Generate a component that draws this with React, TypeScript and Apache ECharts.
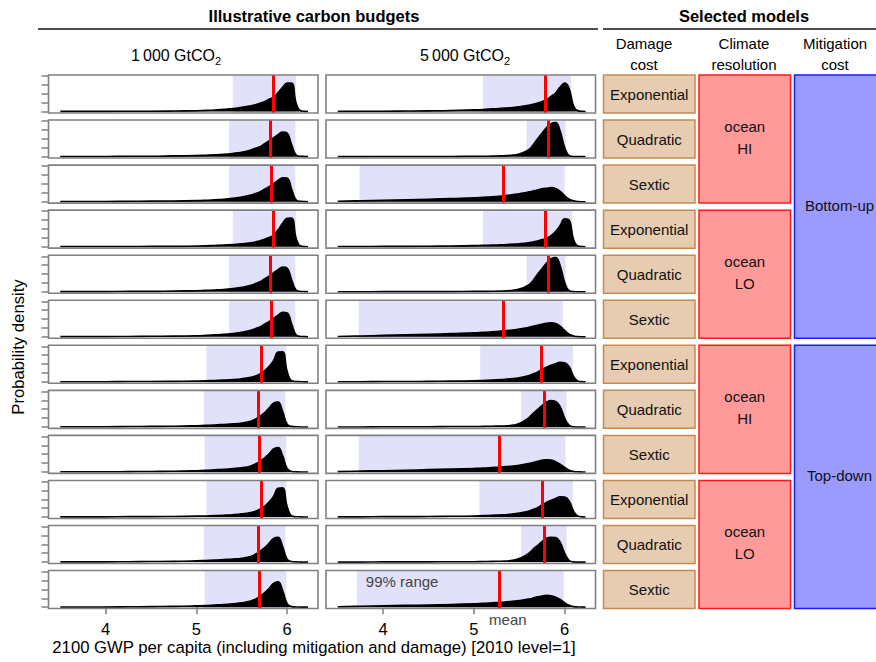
import React, { useEffect, useRef } from "react";
import * as echarts from "echarts";

// ---------- data ----------
const X_GRID = [3.5, 3.75, 4.0, 4.25, 4.5, 4.75, 5.0, 5.1, 5.2, 5.3, 5.4, 5.5, 5.6, 5.65, 5.7, 5.75, 5.8, 5.85, 5.9, 5.95, 6.0, 6.05, 6.1, 6.15, 6.2, 6.23];

// 1 000 GtCO2 densities (rows top to bottom)
const D1000_R1 = [0.01,0.01,0.01,0.02,0.02,0.03,0.05,0.07,0.09,0.13,0.17,0.24,0.32,0.39,0.47,0.56,0.69,0.8,1.07,1.37,1.6,1.6,0.45,0.04,0.01,0];
const D1000_R2 = [0.01,0.01,0.01,0.02,0.02,0.04,0.06,0.08,0.1,0.13,0.18,0.25,0.37,0.47,0.56,0.73,0.88,1.06,1.24,1.38,1.32,0.66,0.09,0.02,0.01,0];
const D1000_R3 = [0.01,0.01,0.01,0.02,0.03,0.04,0.06,0.08,0.11,0.14,0.19,0.26,0.37,0.46,0.55,0.7,0.84,1.02,1.2,1.35,1.33,0.7,0.1,0.02,0.01,0];
const D1000_R4 = [0.01,0.01,0.01,0.01,0.02,0.02,0.04,0.05,0.07,0.09,0.12,0.16,0.22,0.27,0.33,0.42,0.52,0.66,0.95,1.32,1.6,1.62,0.46,0.04,0.01,0];
const D1000_R5 = [0.01,0.01,0.01,0.02,0.02,0.04,0.06,0.08,0.1,0.13,0.18,0.25,0.36,0.46,0.56,0.72,0.88,1.06,1.25,1.39,1.33,0.67,0.09,0.02,0.01,0];
const D1000_R6 = [0.01,0.01,0.01,0.02,0.03,0.04,0.06,0.08,0.11,0.14,0.19,0.26,0.37,0.46,0.56,0.71,0.86,1.04,1.22,1.38,1.35,0.72,0.1,0.02,0.01,0];
const D1000_R7 = [0.01,0.01,0.01,0.02,0.02,0.03,0.05,0.06,0.08,0.1,0.13,0.18,0.26,0.33,0.45,0.62,0.86,1.2,1.68,1.7,0.6,0.06,0.02,0.01,0,0];
const D1000_R8 = [0.01,0.01,0.01,0.02,0.03,0.04,0.07,0.09,0.11,0.14,0.17,0.22,0.32,0.44,0.6,0.8,1.06,1.34,1.4,0.88,0.16,0.03,0.01,0,0,0];
const D1000_R9 = [0.01,0.01,0.01,0.02,0.03,0.04,0.07,0.09,0.12,0.15,0.19,0.24,0.34,0.45,0.6,0.78,1.02,1.3,1.38,0.92,0.2,0.03,0.01,0,0,0];
const D1000_R10 = [0.01,0.01,0.01,0.02,0.02,0.03,0.05,0.06,0.08,0.1,0.13,0.18,0.26,0.33,0.44,0.6,0.84,1.16,1.62,1.64,0.6,0.06,0.02,0.01,0,0];
const D1000_R11 = [0.01,0.01,0.01,0.02,0.03,0.04,0.07,0.09,0.11,0.14,0.17,0.22,0.32,0.44,0.6,0.8,1.06,1.33,1.39,0.88,0.16,0.03,0.01,0,0,0];
const D1000_R12 = [0.01,0.01,0.01,0.02,0.03,0.04,0.07,0.09,0.12,0.15,0.19,0.24,0.34,0.45,0.61,0.8,1.04,1.33,1.42,0.94,0.2,0.03,0.01,0,0,0];

// 5 000 GtCO2 densities
const D5000_R1 = [0.01,0.02,0.02,0.03,0.04,0.06,0.1,0.12,0.15,0.18,0.22,0.27,0.35,0.41,0.48,0.56,0.66,0.85,1.05,1.38,1.6,1.3,0.3,0.04,0.01,0];
const D5000_R2 = [0,0,0.01,0.01,0.01,0.01,0.02,0.02,0.03,0.04,0.07,0.15,0.38,0.64,1.0,1.32,1.64,1.86,1.92,1.46,0.52,0.06,0.01,0,0,0];
const D5000_R3 = [0.02,0.05,0.08,0.11,0.14,0.18,0.22,0.25,0.28,0.32,0.37,0.45,0.54,0.6,0.66,0.72,0.76,0.79,0.74,0.58,0.34,0.14,0.05,0.01,0,0];
const D5000_R4 = [0.01,0.01,0.02,0.02,0.03,0.04,0.06,0.08,0.09,0.11,0.14,0.17,0.22,0.27,0.32,0.4,0.47,0.62,0.85,1.2,1.57,1.5,0.38,0.04,0.01,0];
const D5000_R5 = [0,0,0.01,0.01,0.01,0.01,0.02,0.02,0.03,0.04,0.07,0.15,0.37,0.62,0.98,1.3,1.62,1.86,1.93,1.48,0.54,0.06,0.01,0,0,0];
const D5000_R6 = [0.02,0.05,0.08,0.11,0.14,0.18,0.22,0.25,0.28,0.32,0.37,0.44,0.53,0.59,0.65,0.71,0.76,0.79,0.75,0.6,0.36,0.15,0.05,0.01,0,0];
const D5000_R7 = [0.01,0.01,0.02,0.02,0.03,0.04,0.06,0.08,0.1,0.13,0.17,0.23,0.34,0.44,0.55,0.7,0.83,0.93,1.02,1.1,1.08,0.85,0.3,0.04,0.01,0];
const D5000_R8 = [0,0,0.01,0.01,0.01,0.02,0.02,0.03,0.04,0.05,0.08,0.2,0.5,0.75,0.97,1.2,1.4,1.48,1.44,1.15,0.5,0.09,0.01,0,0,0];
const D5000_R9 = [0.02,0.05,0.07,0.1,0.13,0.16,0.2,0.22,0.25,0.28,0.32,0.38,0.47,0.53,0.6,0.66,0.69,0.67,0.58,0.44,0.25,0.1,0.03,0.01,0,0];
const D5000_R10 = [0.01,0.01,0.02,0.02,0.03,0.04,0.06,0.08,0.1,0.12,0.16,0.22,0.32,0.42,0.53,0.68,0.82,0.94,1.05,1.14,1.13,0.9,0.32,0.04,0.01,0];
const D5000_R11 = [0,0,0.01,0.01,0.01,0.02,0.02,0.03,0.04,0.05,0.08,0.2,0.48,0.72,0.93,1.15,1.34,1.4,1.38,1.12,0.5,0.09,0.01,0,0,0];
const D5000_R12 = [0.02,0.05,0.07,0.1,0.12,0.15,0.19,0.21,0.24,0.27,0.31,0.37,0.45,0.51,0.58,0.63,0.66,0.64,0.56,0.43,0.25,0.1,0.03,0.01,0,0];

const DENS_1000 = [D1000_R1, D1000_R2, D1000_R3, D1000_R4, D1000_R5, D1000_R6, D1000_R7, D1000_R8, D1000_R9, D1000_R10, D1000_R11, D1000_R12];
const DENS_5000 = [D5000_R1, D5000_R2, D5000_R3, D5000_R4, D5000_R5, D5000_R6, D5000_R7, D5000_R8, D5000_R9, D5000_R10, D5000_R11, D5000_R12];

// 99% ranges [low, high] and means
const RANGE_1000 = [[5.4, 6.1], [5.36, 6.09], [5.36, 6.09], [5.4, 6.1], [5.36, 6.09], [5.36, 6.09], [5.11, 5.99], [5.08, 5.98], [5.09, 5.99], [5.11, 5.99], [5.08, 5.98], [5.09, 5.99]];
const MEAN_1000 = [5.85, 5.81, 5.82, 5.85, 5.81, 5.82, 5.72, 5.68, 5.69, 5.72, 5.68, 5.69];
const RANGE_5000 = [[5.1, 6.07], [5.58, 6.01], [3.74, 6.0], [5.1, 6.08], [5.58, 6.01], [3.73, 5.98], [5.07, 6.09], [5.52, 6.02], [3.73, 6.01], [5.06, 6.09], [5.52, 6.02], [3.71, 5.99]];
const MEAN_5000 = [5.79, 5.82, 5.32, 5.79, 5.82, 5.32, 5.74, 5.78, 5.28, 5.75, 5.78, 5.28];

const BUDGETS = ["1\u2009000", "5\u2009000"];
const DAMAGE = ["Exponential", "Quadratic", "Sextic", "Exponential", "Quadratic", "Sextic", "Exponential", "Quadratic", "Sextic", "Exponential", "Quadratic", "Sextic"];
const CLIMATE = [{ label: "ocean\nHI", from: 0, to: 2 }, { label: "ocean\nLO", from: 3, to: 5 }, { label: "ocean\nHI", from: 6, to: 8 }, { label: "ocean\nLO", from: 9, to: 11 }];
const MITIGATION = [{ label: "Bottom-up", from: 0, to: 5 }, { label: "Top-down", from: 6, to: 11 }];
const X_TICKS = [4, 5, 6];
const Y_TICKS = [0, 0.5, 1, 1.5, 2];

// ---------- layout ----------
const FONT = '"Liberation Sans", Arial, Helvetica, sans-serif';
const ROW_TOP = 75;
const ROW_PITCH = 45.05;
const ROW_H = 38;
const COL_LEFT = [48.5, 326];
const PANEL_W = 269.5;
const X_MIN = 3.37;
const X_MAX = 6.34;
const Y_MIN = -0.08;
const Y_MAX = 2.06;
const GRAY = "#808080";

export default function App() {
  const ref = useRef<HTMLDivElement>(null);

  useEffect(() => {
    document.body.style.margin = "0";
    if (!ref.current) return;
    const chart = echarts.init(ref.current, undefined, { renderer: "svg" });

    const grids: any[] = [];
    const xAxes: any[] = [];
    const yAxes: any[] = [];
    const series: any[] = [];
    const graphic: any[] = [];

    const cols = [
      { dens: DENS_1000, range: RANGE_1000, mean: MEAN_1000 },
      { dens: DENS_5000, range: RANGE_5000, mean: MEAN_5000 },
    ];

    cols.forEach((col, c) => {
      col.dens.forEach((d, r) => {
        const k = grids.length;
        const top = ROW_TOP + r * ROW_PITCH;
        const isBottom = r === 11;
        const isLast = isBottom && c === 1;
        grids.push({ left: COL_LEFT[c], top, width: PANEL_W, height: ROW_H, show: false });
        xAxes.push({
          type: "value", gridIndex: k, min: X_MIN, max: X_MAX,
          axisLine: { show: false }, splitLine: { show: false },
          axisTick: { show: isBottom, customValues: X_TICKS, length: 7, lineStyle: { color: GRAY, width: 1.5 } },
          axisLabel: { show: isBottom, customValues: X_TICKS, fontSize: 16.5, color: "#000", margin: 12, fontFamily: FONT },
        });
        yAxes.push({
          type: "value", gridIndex: k, min: Y_MIN, max: Y_MAX,
          axisLine: { show: false }, splitLine: { show: false },
          axisLabel: { show: false, customValues: Y_TICKS },
          axisTick: { show: c === 0, customValues: Y_TICKS, length: 7, lineStyle: { color: GRAY, width: 1.5 } },
        });
        series.push({
          type: "line", xAxisIndex: k, yAxisIndex: k, silent: true,
          data: X_GRID.map((x, i) => [x, d[i]]),
          showSymbol: false, symbol: "none",
          smooth: 0.45,
          lineStyle: { color: "#000", width: 1.6, join: "round" },
          areaStyle: { color: "#000", opacity: 1 },
          markArea: {
            silent: true,
            itemStyle: { color: "#e1e1fa" },
            label: isLast
              ? { show: true, position: "insideTopLeft", formatter: "99% range", color: "#444", fontSize: 15, fontFamily: FONT, offset: [4, -2] }
              : { show: false },
            data: [[{ xAxis: col.range[r][0] }, { xAxis: col.range[r][1] }]],
          },
          markLine: {
            silent: true, symbol: ["none", "none"],
            lineStyle: { color: "#ff0000", width: 3, type: "solid" },
            label: { show: false },
            data: [{ xAxis: col.mean[r] }],
          },
        });
        graphic.push({
          type: "rect", z: 100, silent: true,
          shape: { x: COL_LEFT[c], y: top, width: PANEL_W, height: ROW_H },
          style: { fill: "none", stroke: GRAY, lineWidth: 1.6 },
        });
      });
    });

    // titles
    graphic.push({ type: "text", z: 100, x: 314, y: 16, style: { text: "Illustrative carbon budgets", font: `bold 16.5px ${FONT}`, fill: "#000", align: "center", verticalAlign: "middle" } });
    graphic.push({ type: "line", z: 100, shape: { x1: 38, y1: 29, x2: 598, y2: 29 }, style: { stroke: "#4d4d4d", lineWidth: 2 } });
    graphic.push({ type: "text", z: 100, x: 744, y: 16, style: { text: "Selected models", font: `bold 16.5px ${FONT}`, fill: "#000", align: "center", verticalAlign: "middle" } });
    graphic.push({ type: "line", z: 100, shape: { x1: 603, y1: 29, x2: 880, y2: 29 }, style: { stroke: "#4d4d4d", lineWidth: 2 } });

    const budgetX = [176, 465];
    BUDGETS.forEach((b, i) => {
      graphic.push({
        type: "text", z: 100, x: budgetX[i], y: 55,
        style: {
          text: `{a|${b} GtCO}{b|2}`, align: "center", verticalAlign: "middle",
          rich: {
            a: { fontSize: 16, fontFamily: FONT, fill: "#000", lineHeight: 22, verticalAlign: "middle" },
            b: { fontSize: 11, fontFamily: FONT, fill: "#000", lineHeight: 22, verticalAlign: "bottom" },
          },
        },
      });
    });

    // column headers
    const headers = [{ t: "Damage\ncost", x: 644 }, { t: "Climate\nresolution", x: 744 }, { t: "Mitigation\ncost", x: 835 }];
    headers.forEach((h) => {
      graphic.push({ type: "text", z: 100, x: h.x, y: 53.5, style: { text: h.t, fontSize: 15, fontFamily: FONT, fill: "#000", align: "center", verticalAlign: "middle", lineHeight: 21 } });
    });

    // damage boxes
    DAMAGE.forEach((d, r) => {
      const top = ROW_TOP + r * ROW_PITCH;
      graphic.push({ type: "rect", z: 90, shape: { x: 603.5, y: top, width: 91.5, height: ROW_H }, style: { fill: "#e6ccb0", stroke: "#c8894d", lineWidth: 1.5 } });
      graphic.push({ type: "text", z: 100, x: 649.25, y: top + ROW_H / 2, style: { text: d, fontSize: 15, fontFamily: FONT, fill: "#111", align: "center", verticalAlign: "middle" } });
    });
    CLIMATE.forEach((cl) => {
      const top = ROW_TOP + cl.from * ROW_PITCH;
      const h = (cl.to - cl.from) * ROW_PITCH + ROW_H;
      graphic.push({ type: "rect", z: 90, shape: { x: 699, y: top, width: 91.5, height: h }, style: { fill: "#ff9a9a", stroke: "#ff1a1a", lineWidth: 1.5 } });
      graphic.push({ type: "text", z: 100, x: 744.75, y: top + h / 2 - 2, style: { text: cl.label, fontSize: 15, fontFamily: FONT, fill: "#111", align: "center", verticalAlign: "middle", lineHeight: 22 } });
    });
    MITIGATION.forEach((m) => {
      const top = ROW_TOP + m.from * ROW_PITCH;
      const h = (m.to - m.from) * ROW_PITCH + ROW_H;
      graphic.push({ type: "rect", z: 90, shape: { x: 794.5, y: top, width: 91, height: h }, style: { fill: "#9a9aff", stroke: "#1a1aff", lineWidth: 1.5 } });
      graphic.push({ type: "text", z: 100, x: 839.5, y: top + h / 2 - 1, style: { text: m.label, fontSize: 15, fontFamily: FONT, fill: "#111", align: "center", verticalAlign: "middle" } });
    });

    // axis titles
    graphic.push({ type: "text", z: 100, x: 18, y: 347, rotation: Math.PI / 2, style: { text: "Probability density", fontSize: 16.7, fontFamily: FONT, fill: "#000", align: "center", verticalAlign: "middle" } });
    graphic.push({ type: "text", z: 100, x: 314, y: 647, style: { text: "2100 GWP per capita (including mitigation and damage) [2010 level=1]", fontSize: 16.7, fontFamily: FONT, fill: "#000", align: "center", verticalAlign: "middle" } });

    const option: any = {
      animation: false,
      textStyle: { fontFamily: FONT },
      grid: grids,
      xAxis: xAxes,
      yAxis: yAxes,
      series,
      graphic,
    };
    chart.setOption(option);

    // "mean" annotation below the last panel, placed through the axis scale
    const lastIdx = grids.length - 1;
    const meanPx = chart.convertToPixel({ xAxisIndex: lastIdx, yAxisIndex: lastIdx } as any, [MEAN_5000[11], Y_MIN]) as number[];
    if (meanPx && isFinite(meanPx[0])) {
      graphic.push({ type: "text", z: 100, x: meanPx[0] + 8.5, y: 619, style: { text: "mean", fontSize: 15, fontFamily: FONT, fill: "#444", align: "center", verticalAlign: "middle" } });
      chart.setOption({ graphic }, { replaceMerge: ["graphic"] } as any);
    }

    return () => chart.dispose();
  }, []);

  return <div ref={ref} style={{ width: 876, height: 662, position: "absolute", left: 0, top: 0 }} />;
}
